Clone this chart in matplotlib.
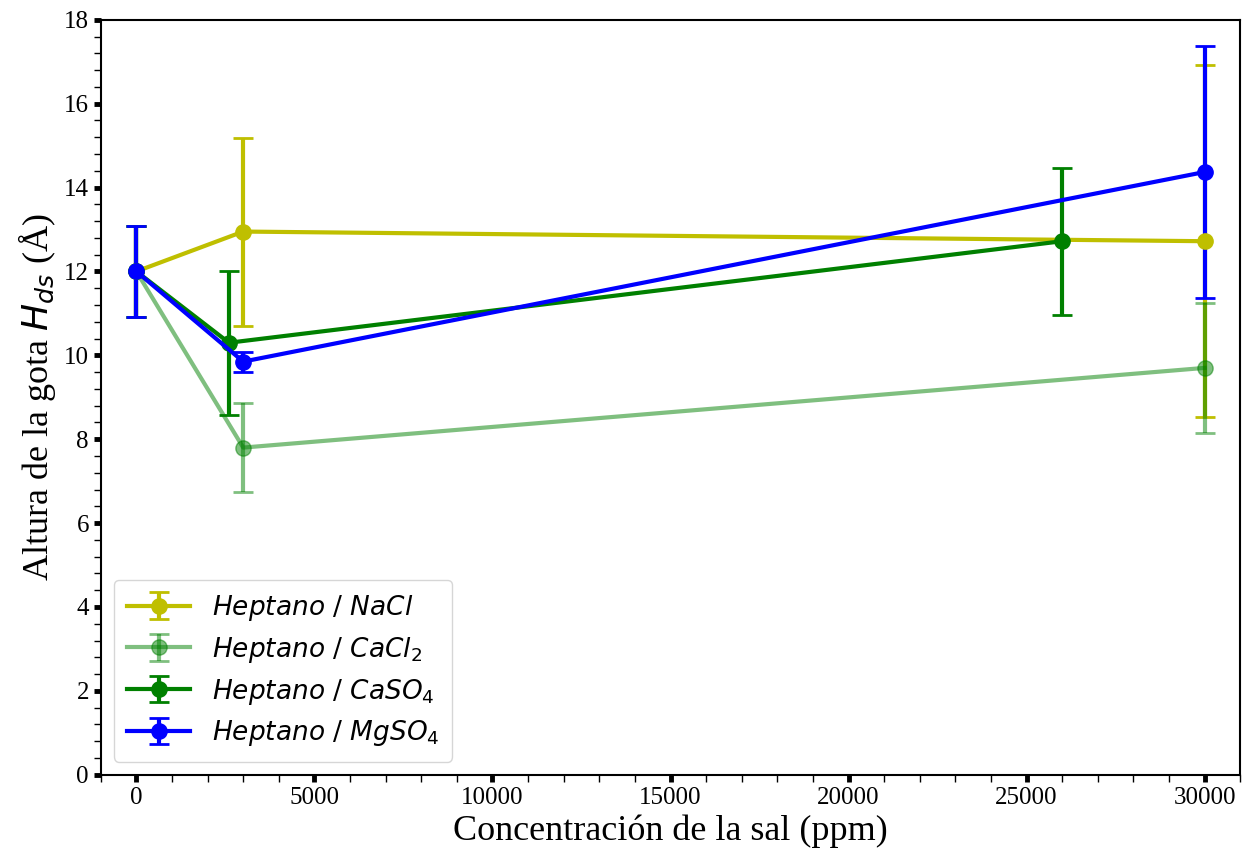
import matplotlib
matplotlib.use('Agg')
import matplotlib.pyplot as plt
from matplotlib.ticker import MultipleLocator

plt.rcParams['font.family'] = ['Liberation Serif', 'DejaVu Serif']
plt.rcParams['mathtext.fontset'] = 'dejavusans'

# data
x_nacl = [0, 3000, 30000]
y_nacl = [12.0, 12.95, 12.72]
e_nacl = [1.08, 2.24, 4.2]

x_cacl2 = [0, 3000, 30000]
y_cacl2 = [12.0, 7.8, 9.7]
e_cacl2 = [1.08, 1.07, 1.55]

x_caso4 = [0, 2600, 26000]
y_caso4 = [12.0, 10.3, 12.72]
e_caso4 = [1.08, 1.72, 1.75]

x_mgso4 = [0, 3000, 30000]
y_mgso4 = [12.0, 9.85, 14.37]
e_mgso4 = [1.08, 0.24, 3.0]

fig, ax = plt.subplots(figsize=(12.44, 8.58), dpi=100)

kw = dict(fmt='-o', lw=3, elinewidth=3, capsize=7, capthick=2, markersize=11)
ax.errorbar(x_nacl, y_nacl, yerr=e_nacl, color='y', label=r'$Heptano$ / $NaCl$', **kw)
ax.errorbar(x_cacl2, y_cacl2, yerr=e_cacl2, color='g', alpha=0.5, label=r'$Heptano$ / $CaCl_2$', **kw)
ax.errorbar(x_caso4, y_caso4, yerr=e_caso4, color='g', label=r'$Heptano$ / $CaSO_4$', **kw)
ax.errorbar(x_mgso4, y_mgso4, yerr=e_mgso4, color='b', label=r'$Heptano$ / $MgSO_4$', **kw)

ax.set_xlim(-1000, 31000)
ax.set_ylim(0, 18)
ax.yaxis.set_major_locator(MultipleLocator(2))
ax.yaxis.set_minor_locator(MultipleLocator(0.4))
ax.xaxis.set_major_locator(MultipleLocator(5000))
ax.xaxis.set_minor_locator(MultipleLocator(1000))
ax.tick_params(which='major', length=5, width=3.5, labelsize=18)
ax.tick_params(which='minor', length=5, width=1)
for s in ax.spines.values():
    s.set_linewidth(1.5)

ax.set_xlabel('Concentración de la sal (ppm)', fontsize=26)
ax.set_ylabel(r'Altura de la gota $H_{ds}$ (Å)', fontsize=26)

leg = ax.legend(loc='lower left', prop={'family': 'DejaVu Sans', 'size': 19},
                borderpad=0.5, handlelength=2.4, labelspacing=0.45)

plt.subplots_adjust(left=0.081, right=0.997, top=0.977, bottom=0.097)
plt.savefig('out.png', dpi=100)
